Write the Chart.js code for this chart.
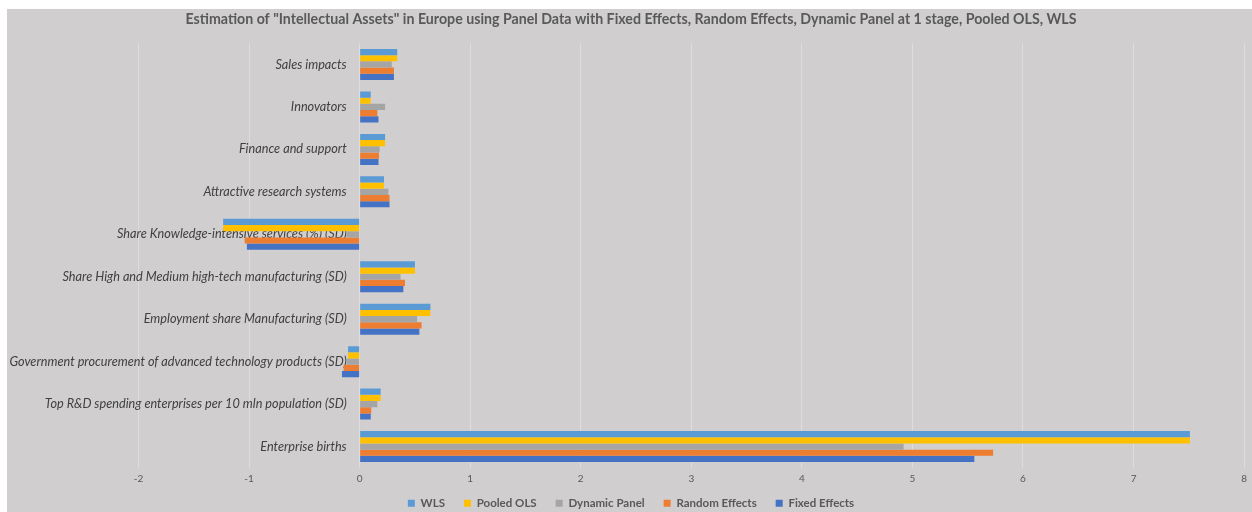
<!DOCTYPE html>
<html>
<head>
<meta charset="utf-8">
<script src="https://cdn.jsdelivr.net/npm/chart.js@4"></script>
<style>
  html, body { margin: 0; padding: 0; background: #ffffff; overflow: hidden; }
  #wrap { position: absolute; left: 7px; top: 9px; width: 1245px; height: 503px; background: #d0cece; overflow: hidden; }
  canvas { display: block; }
</style>
</head>
<body>
<div id="wrap"><canvas id="chart" width="1245" height="510"></canvas></div>
<script>
// Indicators, listed top to bottom
const categories = [
  'Sales impacts',
  'Innovators',
  'Finance and support',
  'Attractive research systems',
  'Share Knowledge-intensive services (%) (SD)',
  'Share High and Medium high-tech manufacturing (SD)',
  'Employment share Manufacturing (SD)',
  'Government procurement of advanced technology products (SD)',
  'Top R&D spending enterprises per 10 mln population (SD)',
  'Enterprise births'
];

// Estimated coefficients per method
const wls           = [0.34, 0.10, 0.23, 0.22, -1.235, 0.50, 0.64, -0.105, 0.19, 7.51];
const pooledOls     = [0.34, 0.10, 0.23, 0.22, -1.235, 0.50, 0.64, -0.105, 0.19, 7.51];
const dynamicPanel  = [0.29, 0.23, 0.18, 0.26, -0.12, 0.37, 0.52, -0.12, 0.16, 4.92];
const randomEffects = [0.31, 0.16, 0.175, 0.27, -1.04, 0.41, 0.56, -0.145, 0.105, 5.73];
const fixedEffects  = [0.31, 0.17, 0.17, 0.27, -1.02, 0.395, 0.54, -0.16, 0.10, 5.56];

const xTicks = [-3, -2, -1, 0, 1, 2, 3, 4, 5, 6, 7, 8];

const seriesNames = ['WLS', 'Pooled OLS', 'Dynamic Panel', 'Random Effects', 'Fixed Effects'];
const seriesColors = ['#5b9bd5', '#ffc000', '#a5a5a5', '#ed7d31', '#4472c4'];
const seriesData = [wls, pooledOls, dynamicPanel, randomEffects, fixedEffects];

const baseFont = 'Lato, "Open Sans", sans-serif';

// the x axis box is kept thin so the legend sits low; let its labels spill below it
const tickRoom = {
  id: 'tickRoom',
  afterLayout(chart) {
    chart.scales.x.bottom += 14;
  }
};

new Chart(document.getElementById('chart'), {
  type: 'bar',
  data: {
    labels: categories,
    datasets: seriesNames.map((name, i) => ({
      label: name,
      data: seriesData[i],
      backgroundColor: seriesColors[i],
      borderWidth: 0,
      categoryPercentage: 0.73,
      barPercentage: 1.0
    }))
  },
  plugins: [tickRoom],
  options: {
    indexAxis: 'y',
    responsive: false,
    animation: false,
    layout: { padding: { left: 9, right: 6, top: 0, bottom: 0 } },
    scales: {
      x: {
        type: 'linear',
        min: xTicks[0],
        max: xTicks[xTicks.length - 1],
        afterBuildTicks: (scale) => { scale.ticks = xTicks.map(v => ({ value: v })); },
        afterFit: (scale) => { scale.height = 10.7; },
        grid: {
          color: (ctx) => ctx.tick && ctx.tick.value === xTicks[0] ? 'rgba(0,0,0,0)' : '#dedcdc',
          lineWidth: 1,
          drawTicks: false
        },
        border: { display: false },
        ticks: {
          padding: 5,
          color: '#595959',
          font: { family: baseFont, size: 10 },
          callback: (v) => v === xTicks[0] ? '' : v
        }
      },
      // category labels sit just left of zero, drawn above the bars
      y: {
        position: { x: -0.1175 },
        z: 1,
        grid: { display: false, drawTicks: false },
        border: { display: false },
        ticks: {
          color: '#404040',
          font: { family: baseFont, size: 12.7, style: 'italic' }
        }
      },
      // empty strip on the left of the plot
      gutter: {
        type: 'linear',
        axis: 'y',
        position: 'left',
        ticks: { display: false },
        grid: { display: false, drawTicks: false },
        border: { display: false },
        afterFit: (scale) => { scale.width = 12; }
      }
    },
    plugins: {
      title: {
        display: true,
        text: 'Estimation of "Intellectual Assets" in Europe using Panel Data with Fixed Effects, Random Effects, Dynamic Panel at 1 stage, Pooled OLS, WLS',
        color: '#595959',
        font: { family: baseFont, size: 14.2, weight: 'bold' },
        padding: { top: 1.6, bottom: 15.6 }
      },
      legend: {
        position: 'bottom',
        labels: {
          boxWidth: 7,
          boxHeight: 7,
          padding: 19,
          color: '#595959',
          font: { family: baseFont, size: 11.5, weight: 'bold' }
        }
      },
      tooltip: { enabled: false }
    }
  }
});
</script>
</body>
</html>
